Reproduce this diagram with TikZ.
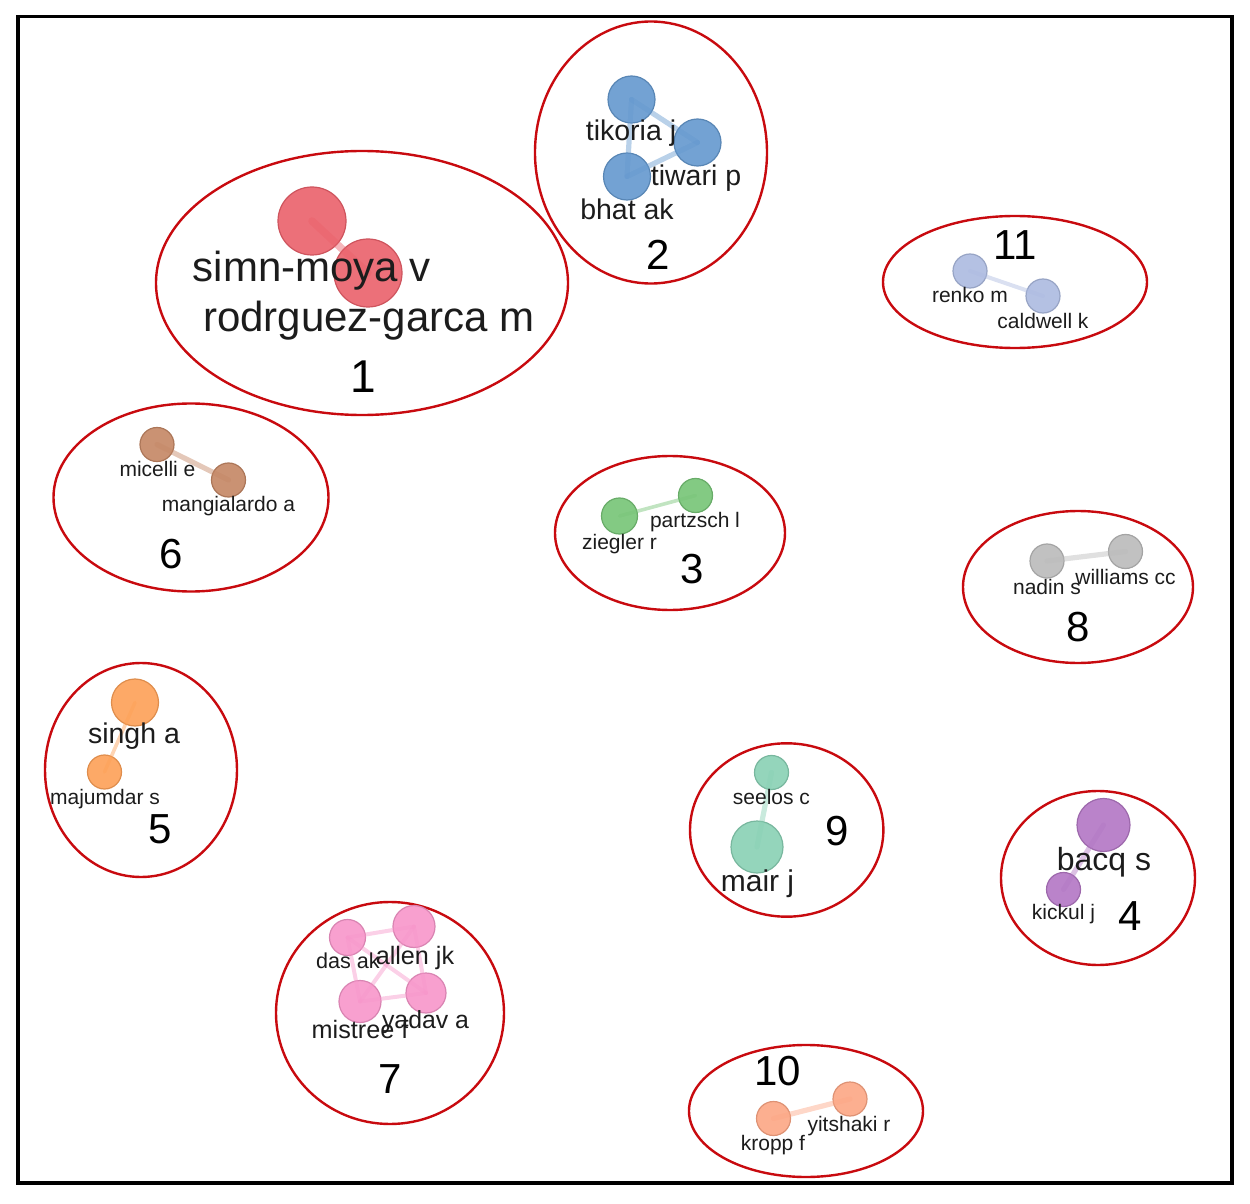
\documentclass[tikz,border=0pt]{standalone}
\usepackage{fontspec}
\setmainfont{Liberation Sans}
\usetikzlibrary{shapes.geometric}
\definecolor{ringred}{RGB}{200,10,15}
\definecolor{txt}{RGB}{28,28,28}
\definecolor{cA}{RGB}{234,96,106}
\definecolor{cB}{RGB}{100,152,206}
\definecolor{cK}{RGB}{172,186,224}
\definecolor{cF}{RGB}{196,134,100}
\definecolor{cC}{RGB}{118,196,118}
\definecolor{cH}{RGB}{186,186,186}
\definecolor{cE}{RGB}{253,160,86}
\definecolor{cI}{RGB}{136,208,180}
\definecolor{cD}{RGB}{178,118,196}
\definecolor{cG}{RGB}{247,150,202}
\definecolor{cJ}{RGB}{252,166,132}
\begin{document}
\begin{tikzpicture}[x=0.5pt,y=-0.5pt,
  clus/.style={ellipse, draw=ringred, line width=1.2pt, inner sep=0pt},
  au/.style 2 args={circle, fill=#1, draw=#1!88!black, line width=0.6pt, fill opacity=0.9, minimum size=#2pt, inner sep=0pt},
  lk/.style={draw=#1, draw opacity=0.45, line width=2.6pt, line cap=round},
  lb/.style={text=txt, inner sep=0pt, anchor=base},
  fbig/.style={font=\fontsize{21pt}{25pt}\selectfont},
  fmed/.style={font=\fontsize{14.25pt}{17pt}\selectfont},
  fsm/.style={font=\fontsize{10.5pt}{12.5pt}\selectfont},
  fnum/.style={font=\fontsize{21pt}{25pt}\selectfont, text=black}
]
\useasboundingbox (0,0) rectangle (1250,1204);
\draw[line width=1.8pt] (18,16.5) rectangle (1232,1183);

% cluster rings
\node[clus, minimum width=206pt, minimum height=132pt] (r1) at (362,283) {};
\node[clus, minimum width=116pt, minimum height=131pt] (r2) at (651,152.5) {};
\node[clus, minimum width=132pt, minimum height=66pt] (r11) at (1015,282) {};
\node[clus, minimum width=137.5pt, minimum height=94pt] (r6) at (191,497.5) {};
\node[clus, minimum width=115pt, minimum height=77pt] (r3) at (670,533) {};
\node[clus, minimum width=115pt, minimum height=76pt] (r8) at (1078,587) {};
\node[clus, minimum width=96pt, minimum height=107pt] (r5) at (141,770) {};
\node[clus, minimum width=96.7pt, minimum height=86.7pt] (r9) at (786.7,830) {};
\node[clus, minimum width=97pt, minimum height=87pt] (r4) at (1098,878) {};
\node[clus, minimum width=114pt, minimum height=111pt] (r7) at (390,1013) {};
\node[clus, minimum width=117pt, minimum height=66pt] (r10) at (806,1111) {};

% author nodes
\node[au={cA}{34}] (sim) at (312,221) {};
\node[au={cA}{34}] (rod) at (368,273) {};
\node[au={cB}{23.5}] (tik) at (631.5,99.5) {};
\node[au={cB}{23.5}] (tiw) at (697.5,142.5) {};
\node[au={cB}{23.5}] (bha) at (627,176.5) {};
\node[au={cK}{17}] (ren) at (970,271) {};
\node[au={cK}{17}] (cal) at (1043,296) {};
\node[au={cF}{17}] (mic) at (157,444.5) {};
\node[au={cF}{17}] (man) at (228.5,480) {};
\node[au={cC}{17}] (par) at (695.5,495.5) {};
\node[au={cC}{18}] (zie) at (619.5,516) {};
\node[au={cH}{17}] (nad) at (1047,561) {};
\node[au={cH}{17}] (wil) at (1125.5,551.5) {};
\node[au={cE}{23.5}] (sin) at (135,702.5) {};
\node[au={cE}{17}] (maj) at (104.5,772) {};
\node[au={cI}{17}] (see) at (771.5,772.5) {};
\node[au={cI}{26}] (mai) at (757,847) {};
\node[au={cD}{26.5}] (bac) at (1103.5,825) {};
\node[au={cD}{17}] (kic) at (1063.5,889.5) {};
\node[au={cG}{18}] (das) at (347.5,937.5) {};
\node[au={cG}{21}] (all) at (414,926.5) {};
\node[au={cG}{21}] (mis) at (360,1001.5) {};
\node[au={cG}{20}] (yad) at (426,993) {};
\node[au={cJ}{17}] (yit) at (850,1099) {};
\node[au={cJ}{17}] (kro) at (773.5,1118.5) {};

% links
\draw[lk=cA, line width=3.8pt] (sim.center) -- (rod.center);
\draw[lk=cB] (tik.center) -- (tiw.center);
\draw[lk=cB] (tik.center) -- (bha.center);
\draw[lk=cB] (bha.center) -- (tiw.center);
\draw[lk=cK, line width=2pt] (ren.center) -- (cal.center);
\draw[lk=cF] (mic.center) -- (man.center);
\draw[lk=cC, line width=1.8pt] (par.center) -- (zie.center);
\draw[lk=cH] (nad.center) -- (wil.center);
\draw[lk=cE, line width=1.8pt] (sin.center) -- (maj.center);
\draw[lk=cI] (see.center) -- (mai.center);
\draw[lk=cD] (bac.center) -- (kic.center);
\draw[lk=cG, line width=2pt] (das.center) -- (all.center);
\draw[lk=cG, line width=2pt] (das.center) -- (mis.center);
\draw[lk=cG, line width=2pt] (das.center) -- (yad.center);
\draw[lk=cG, line width=2pt] (all.center) -- (mis.center);
\draw[lk=cG, line width=2pt] (all.center) -- (yad.center);
\draw[lk=cG, line width=2pt] (mis.center) -- (yad.center);
\draw[lk=cJ] (yit.center) -- (kro.center);

% labels
\node[lb, fbig] (tsim) at (312,282) {simn-moya v};
\node[lb, fbig] (trod) at (369,332) {rodrguez-garca m};
\node[lb, fnum, font=\fontsize{23pt}{27pt}\selectfont] (n1) at (363,393) {1};

\node[lb, fmed] (ttik) at (631,140.5) {tikoria j};
\node[lb, fmed] (ttiw) at (696,185.5) {tiwari p};
\node[lb, fmed] (tbha) at (627,220) {bhat ak};
\node[lb, fnum] (n2) at (658,270) {2};

\node[lb, fnum] (n11) at (1015,260) {11};
\node[lb, fsm] (tren) at (970,302.3) {renko m};
\node[lb, fsm] (tcal) at (1043,328.3) {caldwell k};

\node[lb, fsm] (tmic) at (157.5,476.7) {micelli e};
\node[lb, fsm] (tman) at (228.5,511.7) {mangialardo a};
\node[lb, fnum] (n6) at (171,568.3) {6};

\node[lb, fsm] (tpar) at (695,527.7) {partzsch l};
\node[lb, fsm] (tzie) at (619.5,549) {ziegler r};
\node[lb, fnum] (n3) at (692,583.3) {3};

\node[lb, fsm] (twil) at (1125.5,584) {williams cc};
\node[lb, fsm] (tnad) at (1047,594) {nadin s};
\node[lb, fnum] (n8) at (1078,641.7) {8};

\node[lb, fmed] (tsin) at (134,743.3) {singh a};
\node[lb, fsm] (tmaj) at (105,804) {majumdar s};
\node[lb, fnum] (n5) at (160,843.3) {5};

\node[lb, fsm] (tsee) at (771.5,804) {seelos c};
\node[lb, fmed, font=\fontsize{15pt}{18pt}\selectfont] (tmai) at (757.5,891.7) {mair j};
\node[lb, fnum] (n9) at (837,845) {9};

\node[lb, fmed, font=\fontsize{16pt}{19pt}\selectfont] (tbac) at (1104,870) {bacq s};
\node[lb, fsm] (tkic) at (1063.5,919.3) {kickul j};
\node[lb, fnum] (n4) at (1130,930.7) {4};

\node[lb, fsm, font=\fontsize{10.8pt}{13pt}\selectfont] (tdas) at (348,968.3) {das ak};
\node[lb, font=\fontsize{12.6pt}{15pt}\selectfont] (tall) at (415,964) {allen jk};
\node[lb, font=\fontsize{12.6pt}{15pt}\selectfont] (tmis) at (360,1038.3) {mistree f};
\node[lb, font=\fontsize{12.4pt}{15pt}\selectfont] (tyad) at (425.5,1028.3) {yadav a};
\node[lb, fnum] (n7) at (390,1093.3) {7};

\node[lb, fnum] (n10) at (778,1085) {10};
\node[lb, fsm] (tyit) at (849,1131.7) {yitshaki r};
\node[lb, fsm] (tkro) at (773,1150.7) {kropp f};
\end{tikzpicture}
\end{document}
